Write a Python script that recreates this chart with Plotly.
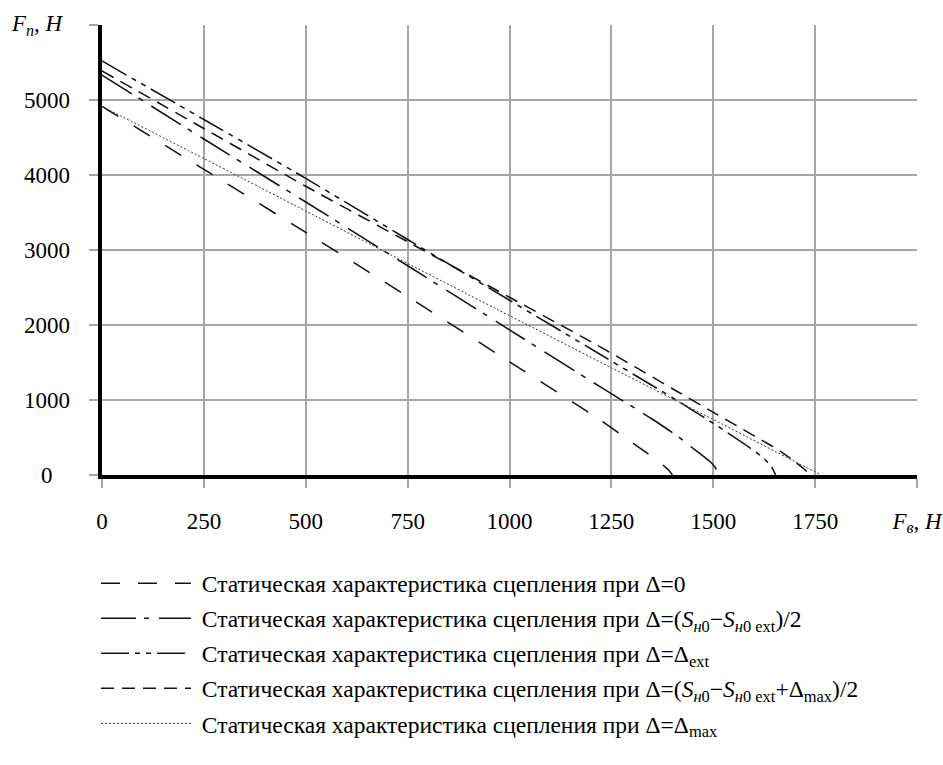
import plotly.graph_objects as go

# ---- data ----
x_d0 = [0, 250, 500, 750, 1000, 1222, 1295, 1336, 1369, 1390, 1400]
y_d0 = [4915, 4075, 3235, 2380, 1510, 735, 455, 297, 165, 70, 0]

x_half = [0, 250, 500, 750, 1000, 1222, 1349, 1418, 1447, 1465, 1492, 1505, 1512]
y_half = [5333, 4480, 3640, 2790, 1935, 1178, 750, 495, 370, 295, 180, 100, 0]

x_ext = [0, 250, 500, 750, 1000, 1225, 1400, 1500, 1580, 1620, 1643, 1653]
y_ext = [5520, 4740, 3955, 3140, 2330, 1600, 1030, 690, 400, 240, 110, 0]

x_halfmax = [0, 250, 500, 750, 1000, 1229, 1400, 1500, 1573, 1618, 1663, 1700, 1725, 1737]
y_halfmax = [5387, 4620, 3850, 3110, 2370, 1689, 1150, 836, 609, 467, 324, 180, 70, 0]

x_max = [0, 250, 500, 750, 1000, 1250, 1500, 1700, 1765]
y_max = [4915, 4220, 3520, 2820, 2125, 1430, 740, 180, 0]

x_tickvals = [0, 250, 500, 750, 1000, 1250, 1500, 1750, 2000]
x_ticktext = ["0", "250", "500", "750", "1000", "1250", "1500", "1750",
              "<i>F</i><sub><i>в</i></sub>, <i>Н</i>"]
y_tickvals = [0, 1000, 2000, 3000, 4000, 5000, 6000]
y_ticktext = ["0", "1000", "2000", "3000", "4000", "5000",
              "<i>F</i><sub><i>п</i></sub>, <i>Н</i>"]

prefix = "\u00a0Статическая характеристика сцепления при "
names = [
    prefix + "Δ=0",
    prefix + "Δ=(<i>S</i><sub><i>н</i>0</sub>−<i>S</i><sub><i>н</i>0 ext</sub>)/2",
    prefix + "Δ=Δ<sub>ext</sub>",
    prefix + "Δ=(<i>S</i><sub><i>н</i>0</sub>−<i>S</i><sub><i>н</i>0 ext</sub>+Δ<sub>max</sub>)/2",
    prefix + "Δ=Δ<sub>max</sub>",
]

FONT = "Liberation Serif, Times New Roman, serif"
FS = 23
LFS = 23.5

series = [
    (x_d0, y_d0, "19px,18px", 1.5, "#111"),
    (x_half, y_half, "35px,8px,5px,10px", 1.5, "#111"),
    (x_ext, y_ext, "28px,6px,5px,6px,5px,6px", 1.5, "#111"),
    (x_halfmax, y_halfmax, "13px,8px", 1.5, "#111"),
    (x_max, y_max, "2px,2px", 1.0, "#333"),
]

fig = go.Figure()
for i, (xs, ys, dash, w, c) in enumerate(series):
    fig.add_trace(go.Scatter(
        x=xs, y=ys, mode="lines", name=names[i],
        line=dict(color=c, width=w, dash=dash, shape="spline", smoothing=0.6),
        legendgroup=f"g{i}",
    ))

fig.update_layout(
    width=943, height=765,
    margin=dict(l=102, r=26, t=25, b=290, autoexpand=False),
    paper_bgcolor="white", plot_bgcolor="white",
    font=dict(family=FONT, size=FS, color="black"),
    showlegend=True,
    legend=dict(
        x=-0.0074, y=-0.192, xanchor="left", yanchor="top",
        itemwidth=90, tracegroupgap=1.5,
        font=dict(family=FONT, size=LFS, color="black"),
        bgcolor="rgba(0,0,0,0)",
    ),
)
fig.update_xaxes(
    range=[0, 2000], tickvals=x_tickvals, ticktext=x_ticktext,
    showgrid=True, gridcolor="#a6a6a6", gridwidth=1.5,
    showline=True, linecolor="black", linewidth=4,
    ticks="outside", ticklen=9, tickcolor="#a6a6a6", tickwidth=1.5,
    ticklabelstandoff=13, zeroline=False, automargin=False,
    tickfont=dict(family=FONT, size=FS, color="black"),
)
fig.update_yaxes(
    range=[0, 6000], tickvals=y_tickvals,
    showgrid=True, gridcolor="#a6a6a6", gridwidth=1.5,
    showline=True, linecolor="black", linewidth=4,
    ticks="outside", ticklen=9, tickcolor="#a6a6a6", tickwidth=1.5,
    showticklabels=False, zeroline=False, automargin=False,
)

# y tick labels, centred as in the reference (the top one is the axis name)
for v, t in zip(y_tickvals, y_ticktext):
    top = v == y_tickvals[-1]
    fig.add_annotation(x=-0.079 if top else -0.068, y=v, xref="paper", yref="y",
                       text=t, showarrow=False, xanchor="center",
                       yanchor="middle",
                       font=dict(family=FONT, size=FS, color="black"))

fig.write_html(
    "out.html",
    config={"displayModeBar": False},
    post_script="document.body.style.margin='0';document.body.style.overflow='hidden';",
)
